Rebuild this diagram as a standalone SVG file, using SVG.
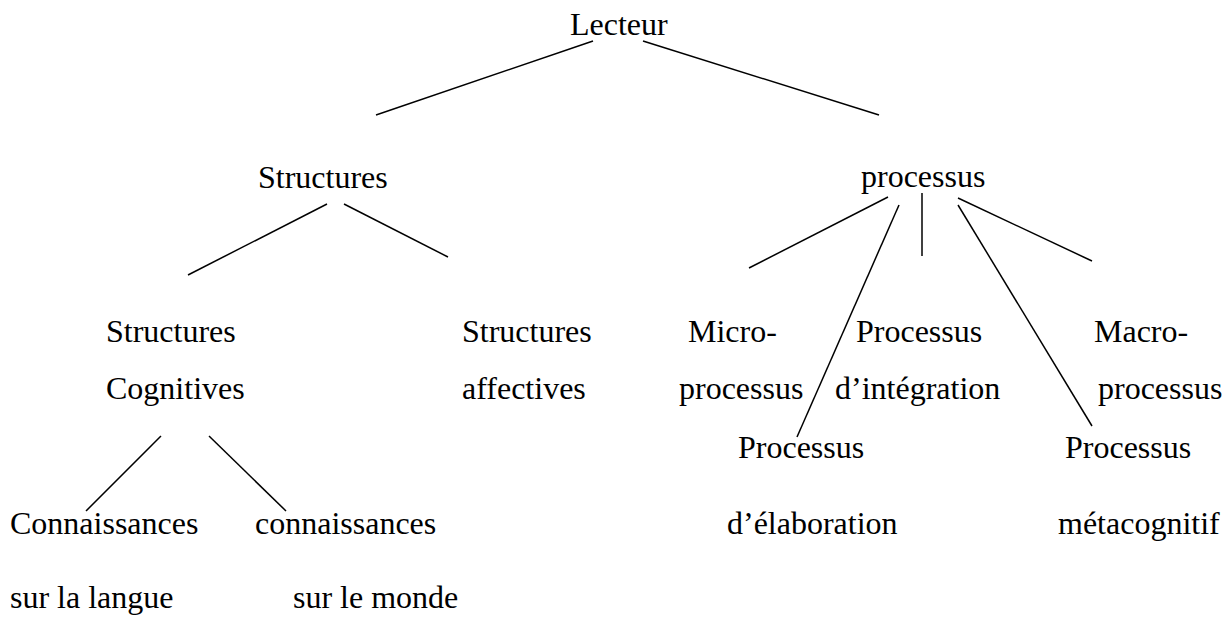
<svg xmlns="http://www.w3.org/2000/svg" width="1232" height="617" viewBox="0 0 1232 617">
<style>
text{font-family:"Liberation Serif","Times New Roman",serif;font-size:32px;fill:#000}
.c line{stroke:#000;stroke-width:1.5;stroke-linecap:butt}
</style>
<rect width="1232" height="617" fill="#fff"/>
<g class="c" id="connectors">
<line x1="593" y1="41" x2="376" y2="115"/>
<line x1="643" y1="41" x2="879" y2="115"/>
<line x1="327" y1="204" x2="188" y2="275"/>
<line x1="344" y1="204" x2="448" y2="257"/>
<line x1="161" y1="436" x2="86" y2="511"/>
<line x1="209" y1="436" x2="286" y2="511"/>
<line x1="888" y1="197" x2="749" y2="268"/>
<line x1="899" y1="205" x2="797" y2="437"/>
<line x1="922" y1="193" x2="922" y2="256"/>
<line x1="958" y1="205" x2="1092" y2="426"/>
<line x1="958" y1="198" x2="1092" y2="261"/>
</g>
<g id="lecteur"><text x="570" y="35">Lecteur</text></g>
<g id="structures"><text x="258" y="188">Structures</text></g>
<g id="processus"><text x="861" y="187">processus</text></g>
<g id="structures-cognitives"><text x="106" y="342">Structures</text><text x="106" y="399">Cognitives</text></g>
<g id="structures-affectives"><text x="462" y="342">Structures</text><text x="462" y="399">affectives</text></g>
<g id="connaissances-langue"><text x="10" y="534">Connaissances</text><text x="10" y="608">sur la langue</text></g>
<g id="connaissances-monde"><text x="255" y="534">connaissances</text><text x="293" y="608">sur le monde</text></g>
<g id="micro"><text x="688" y="342">Micro-</text><text x="679" y="399">processus</text></g>
<g id="integration"><text x="856" y="342">Processus</text><text x="835" y="399">d’intégration</text></g>
<g id="macro"><text x="1094" y="342">Macro-</text><text x="1098" y="399">processus</text></g>
<g id="elaboration"><text x="738" y="458">Processus</text><text x="727" y="534">d’élaboration</text></g>
<g id="metacognitif"><text x="1065" y="458">Processus</text><text x="1058" y="534">métacognitif</text></g>
</svg>
